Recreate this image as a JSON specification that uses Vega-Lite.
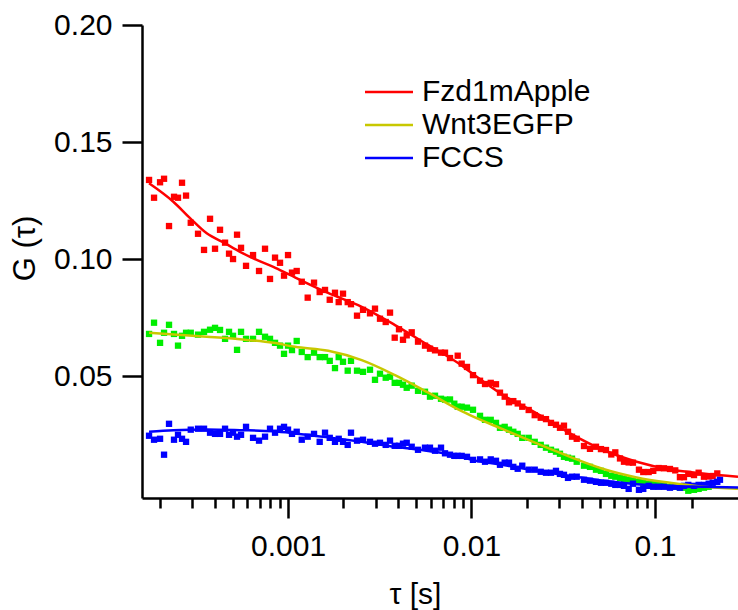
{
"$schema": "https://vega.github.io/schema/vega-lite/v6.json",
"width": 596, "height": 473,
"autosize": {"type": "none"},
"padding": {"left": 142, "top": 25, "right": 0, "bottom": 112},
"background": "white",
"config": {"view": {"stroke": null}, "font": "Liberation Sans"},
"datasets": {
"pts": [
{"s":"Fzd1mApple","t":1.748e-4,"g":0.1338},{"s":"Fzd1mApple","t":1.861e-4,"g":0.1262},{"s":"Fzd1mApple","t":2.007e-4,"g":0.1328},{"s":"Fzd1mApple","t":2.110e-4,"g":0.1343},{"s":"Fzd1mApple","t":2.246e-4,"g":0.1141},{"s":"Fzd1mApple","t":2.391e-4,"g":0.1266},{"s":"Fzd1mApple","t":2.514e-4,"g":0.1262},{"s":"Fzd1mApple","t":2.644e-4,"g":0.1326},{"s":"Fzd1mApple","t":2.781e-4,"g":0.1271},{"s":"Fzd1mApple","t":2.950e-4,"g":0.1155},
{"s":"Fzd1mApple","t":3.232e-4,"g":0.1108},{"s":"Fzd1mApple","t":3.485e-4,"g":0.1039},{"s":"Fzd1mApple","t":3.758e-4,"g":0.1172},{"s":"Fzd1mApple","t":4.001e-4,"g":0.1044},{"s":"Fzd1mApple","t":4.260e-4,"g":0.1125},{"s":"Fzd1mApple","t":4.537e-4,"g":0.1070},{"s":"Fzd1mApple","t":4.770e-4,"g":0.1023},{"s":"Fzd1mApple","t":5.015e-4,"g":0.1000},{"s":"Fzd1mApple","t":5.274e-4,"g":0.1104},{"s":"Fzd1mApple","t":5.545e-4,"g":0.1048},
{"s":"Fzd1mApple","t":5.904e-4,"g":0.0971},{"s":"Fzd1mApple","t":6.447e-4,"g":0.1017},{"s":"Fzd1mApple","t":6.950e-4,"g":0.0949},{"s":"Fzd1mApple","t":7.493e-4,"g":0.1044},{"s":"Fzd1mApple","t":7.977e-4,"g":0.0915},{"s":"Fzd1mApple","t":8.496e-4,"g":0.1006},{"s":"Fzd1mApple","t":9.045e-4,"g":0.0984},{"s":"Fzd1mApple","t":9.511e-4,"g":0.0929},{"s":"Fzd1mApple","t":1.000e-3,"g":0.1017},{"s":"Fzd1mApple","t":1.051e-3,"g":0.0942},
{"s":"Fzd1mApple","t":1.115e-3,"g":0.0949},{"s":"Fzd1mApple","t":1.188e-3,"g":0.0903},{"s":"Fzd1mApple","t":1.280e-3,"g":0.0835},{"s":"Fzd1mApple","t":1.386e-3,"g":0.0899},{"s":"Fzd1mApple","t":1.488e-3,"g":0.0859},{"s":"Fzd1mApple","t":1.591e-3,"g":0.0868},{"s":"Fzd1mApple","t":1.688e-3,"g":0.0826},{"s":"Fzd1mApple","t":1.803e-3,"g":0.0856},{"s":"Fzd1mApple","t":1.889e-3,"g":0.0816},{"s":"Fzd1mApple","t":1.994e-3,"g":0.0852},
{"s":"Fzd1mApple","t":2.115e-3,"g":0.0816},{"s":"Fzd1mApple","t":2.204e-3,"g":0.0807},{"s":"Fzd1mApple","t":2.377e-3,"g":0.0758},{"s":"Fzd1mApple","t":2.563e-3,"g":0.0783},{"s":"Fzd1mApple","t":2.798e-3,"g":0.0768},{"s":"Fzd1mApple","t":2.979e-3,"g":0.0788},{"s":"Fzd1mApple","t":3.172e-3,"g":0.0745},{"s":"Fzd1mApple","t":3.408e-3,"g":0.0731},{"s":"Fzd1mApple","t":3.597e-3,"g":0.0771},{"s":"Fzd1mApple","t":3.815e-3,"g":0.0664},
{"s":"Fzd1mApple","t":4.026e-3,"g":0.0700},{"s":"Fzd1mApple","t":4.233e-3,"g":0.0655},{"s":"Fzd1mApple","t":4.435e-3,"g":0.0674},{"s":"Fzd1mApple","t":4.722e-3,"g":0.0687},{"s":"Fzd1mApple","t":5.111e-3,"g":0.0647},{"s":"Fzd1mApple","t":5.579e-3,"g":0.0630},{"s":"Fzd1mApple","t":5.939e-3,"g":0.0617},{"s":"Fzd1mApple","t":6.326e-3,"g":0.0610},{"s":"Fzd1mApple","t":6.822e-3,"g":0.0600},{"s":"Fzd1mApple","t":7.173e-3,"g":0.0600},
{"s":"Fzd1mApple","t":7.636e-3,"g":0.0577},{"s":"Fzd1mApple","t":8.411e-3,"g":0.0587},{"s":"Fzd1mApple","t":8.841e-3,"g":0.0553},{"s":"Fzd1mApple","t":9.452e-3,"g":0.0539},{"s":"Fzd1mApple","t":1.019e-2,"g":0.0504},{"s":"Fzd1mApple","t":1.113e-2,"g":0.0480},{"s":"Fzd1mApple","t":1.185e-2,"g":0.0466},{"s":"Fzd1mApple","t":1.273e-2,"g":0.0471},{"s":"Fzd1mApple","t":1.360e-2,"g":0.0465},{"s":"Fzd1mApple","t":1.430e-2,"g":0.0429},
{"s":"Fzd1mApple","t":1.517e-2,"g":0.0412},{"s":"Fzd1mApple","t":1.601e-2,"g":0.0388},{"s":"Fzd1mApple","t":1.690e-2,"g":0.0393},{"s":"Fzd1mApple","t":1.786e-2,"g":0.0383},{"s":"Fzd1mApple","t":1.891e-2,"g":0.0369},{"s":"Fzd1mApple","t":2.050e-2,"g":0.0355},{"s":"Fzd1mApple","t":2.211e-2,"g":0.0333},{"s":"Fzd1mApple","t":2.384e-2,"g":0.0322},{"s":"Fzd1mApple","t":2.547e-2,"g":0.0316},{"s":"Fzd1mApple","t":2.712e-2,"g":0.0300},
{"s":"Fzd1mApple","t":2.887e-2,"g":0.0292},{"s":"Fzd1mApple","t":3.036e-2,"g":0.0279},{"s":"Fzd1mApple","t":3.192e-2,"g":0.0288},{"s":"Fzd1mApple","t":3.357e-2,"g":0.0262},{"s":"Fzd1mApple","t":3.530e-2,"g":0.0241},{"s":"Fzd1mApple","t":3.745e-2,"g":0.0232},{"s":"Fzd1mApple","t":4.104e-2,"g":0.0201},{"s":"Fzd1mApple","t":4.424e-2,"g":0.0189},{"s":"Fzd1mApple","t":4.770e-2,"g":0.0198},{"s":"Fzd1mApple","t":5.078e-2,"g":0.0188},
{"s":"Fzd1mApple","t":5.408e-2,"g":0.0184},{"s":"Fzd1mApple","t":5.780e-2,"g":0.0165},{"s":"Fzd1mApple","t":6.078e-2,"g":0.0174},{"s":"Fzd1mApple","t":6.447e-2,"g":0.0148},{"s":"Fzd1mApple","t":6.778e-2,"g":0.0134},{"s":"Fzd1mApple","t":7.189e-2,"g":0.0131},{"s":"Fzd1mApple","t":7.587e-2,"g":0.0130},{"s":"Fzd1mApple","t":8.180e-2,"g":0.0100},{"s":"Fzd1mApple","t":8.634e-2,"g":0.0090},{"s":"Fzd1mApple","t":9.240e-2,"g":0.0090},
{"s":"Fzd1mApple","t":9.788e-2,"g":0.0095},{"s":"Fzd1mApple","t":0.1047,"g":0.0107},{"s":"Fzd1mApple","t":0.1119,"g":0.0106},{"s":"Fzd1mApple","t":0.1207,"g":0.0103},{"s":"Fzd1mApple","t":0.1290,"g":0.0097},{"s":"Fzd1mApple","t":0.1368,"g":0.0068},{"s":"Fzd1mApple","t":0.1439,"g":0.0068},{"s":"Fzd1mApple","t":0.1519,"g":0.0082},{"s":"Fzd1mApple","t":0.1632,"g":0.0077},{"s":"Fzd1mApple","t":0.1730,"g":0.0087},
{"s":"Fzd1mApple","t":0.1849,"g":0.0070},{"s":"Fzd1mApple","t":0.1962,"g":0.0071},{"s":"Fzd1mApple","t":0.2063,"g":0.0073},{"s":"Fzd1mApple","t":0.2186,"g":0.0084},
{"s":"Wnt3EGFP","t":1.748e-4,"g":0.0680},{"s":"Wnt3EGFP","t":1.861e-4,"g":0.0728},{"s":"Wnt3EGFP","t":2.007e-4,"g":0.0642},{"s":"Wnt3EGFP","t":2.110e-4,"g":0.0685},{"s":"Wnt3EGFP","t":2.246e-4,"g":0.0719},{"s":"Wnt3EGFP","t":2.391e-4,"g":0.0680},{"s":"Wnt3EGFP","t":2.514e-4,"g":0.0630},{"s":"Wnt3EGFP","t":2.644e-4,"g":0.0672},{"s":"Wnt3EGFP","t":2.781e-4,"g":0.0685},{"s":"Wnt3EGFP","t":2.950e-4,"g":0.0685},
{"s":"Wnt3EGFP","t":3.232e-4,"g":0.0677},{"s":"Wnt3EGFP","t":3.485e-4,"g":0.0689},{"s":"Wnt3EGFP","t":3.758e-4,"g":0.0698},{"s":"Wnt3EGFP","t":4.001e-4,"g":0.0706},{"s":"Wnt3EGFP","t":4.260e-4,"g":0.0697},{"s":"Wnt3EGFP","t":4.537e-4,"g":0.0659},{"s":"Wnt3EGFP","t":4.770e-4,"g":0.0689},{"s":"Wnt3EGFP","t":5.015e-4,"g":0.0672},{"s":"Wnt3EGFP","t":5.274e-4,"g":0.0612},{"s":"Wnt3EGFP","t":5.545e-4,"g":0.0689},
{"s":"Wnt3EGFP","t":5.904e-4,"g":0.0659},{"s":"Wnt3EGFP","t":6.447e-4,"g":0.0659},{"s":"Wnt3EGFP","t":6.950e-4,"g":0.0689},{"s":"Wnt3EGFP","t":7.493e-4,"g":0.0668},{"s":"Wnt3EGFP","t":7.977e-4,"g":0.0659},{"s":"Wnt3EGFP","t":8.496e-4,"g":0.0642},{"s":"Wnt3EGFP","t":9.045e-4,"g":0.0630},{"s":"Wnt3EGFP","t":9.511e-4,"g":0.0595},{"s":"Wnt3EGFP","t":1.000e-3,"g":0.0630},{"s":"Wnt3EGFP","t":1.051e-3,"g":0.0611},
{"s":"Wnt3EGFP","t":1.115e-3,"g":0.0650},{"s":"Wnt3EGFP","t":1.188e-3,"g":0.0603},{"s":"Wnt3EGFP","t":1.280e-3,"g":0.0581},{"s":"Wnt3EGFP","t":1.386e-3,"g":0.0600},{"s":"Wnt3EGFP","t":1.488e-3,"g":0.0581},{"s":"Wnt3EGFP","t":1.591e-3,"g":0.0581},{"s":"Wnt3EGFP","t":1.688e-3,"g":0.0565},{"s":"Wnt3EGFP","t":1.803e-3,"g":0.0534},{"s":"Wnt3EGFP","t":1.889e-3,"g":0.0581},{"s":"Wnt3EGFP","t":1.994e-3,"g":0.0561},
{"s":"Wnt3EGFP","t":2.115e-3,"g":0.0523},{"s":"Wnt3EGFP","t":2.204e-3,"g":0.0565},{"s":"Wnt3EGFP","t":2.377e-3,"g":0.0523},{"s":"Wnt3EGFP","t":2.563e-3,"g":0.0518},{"s":"Wnt3EGFP","t":2.798e-3,"g":0.0527},{"s":"Wnt3EGFP","t":2.979e-3,"g":0.0484},{"s":"Wnt3EGFP","t":3.172e-3,"g":0.0510},{"s":"Wnt3EGFP","t":3.408e-3,"g":0.0493},{"s":"Wnt3EGFP","t":3.597e-3,"g":0.0497},{"s":"Wnt3EGFP","t":3.815e-3,"g":0.0471},
{"s":"Wnt3EGFP","t":4.026e-3,"g":0.0471},{"s":"Wnt3EGFP","t":4.233e-3,"g":0.0463},{"s":"Wnt3EGFP","t":4.435e-3,"g":0.0450},{"s":"Wnt3EGFP","t":4.722e-3,"g":0.0459},{"s":"Wnt3EGFP","t":5.111e-3,"g":0.0437},{"s":"Wnt3EGFP","t":5.579e-3,"g":0.0433},{"s":"Wnt3EGFP","t":5.939e-3,"g":0.0412},{"s":"Wnt3EGFP","t":6.326e-3,"g":0.0416},{"s":"Wnt3EGFP","t":6.822e-3,"g":0.0403},{"s":"Wnt3EGFP","t":7.173e-3,"g":0.0399},
{"s":"Wnt3EGFP","t":7.636e-3,"g":0.0400},{"s":"Wnt3EGFP","t":8.060e-3,"g":0.0382},{"s":"Wnt3EGFP","t":8.411e-3,"g":0.0369},{"s":"Wnt3EGFP","t":8.841e-3,"g":0.0369},{"s":"Wnt3EGFP","t":9.452e-3,"g":0.0365},{"s":"Wnt3EGFP","t":1.019e-2,"g":0.0356},{"s":"Wnt3EGFP","t":1.113e-2,"g":0.0330},{"s":"Wnt3EGFP","t":1.185e-2,"g":0.0313},{"s":"Wnt3EGFP","t":1.273e-2,"g":0.0313},{"s":"Wnt3EGFP","t":1.360e-2,"g":0.0300},
{"s":"Wnt3EGFP","t":1.430e-2,"g":0.0279},{"s":"Wnt3EGFP","t":1.517e-2,"g":0.0283},{"s":"Wnt3EGFP","t":1.601e-2,"g":0.0271},{"s":"Wnt3EGFP","t":1.690e-2,"g":0.0262},{"s":"Wnt3EGFP","t":1.786e-2,"g":0.0253},{"s":"Wnt3EGFP","t":1.891e-2,"g":0.0236},{"s":"Wnt3EGFP","t":2.050e-2,"g":0.0236},{"s":"Wnt3EGFP","t":2.211e-2,"g":0.0219},{"s":"Wnt3EGFP","t":2.384e-2,"g":0.0206},{"s":"Wnt3EGFP","t":2.547e-2,"g":0.0194},
{"s":"Wnt3EGFP","t":2.712e-2,"g":0.0185},{"s":"Wnt3EGFP","t":2.887e-2,"g":0.0177},{"s":"Wnt3EGFP","t":3.036e-2,"g":0.0168},{"s":"Wnt3EGFP","t":3.192e-2,"g":0.0155},{"s":"Wnt3EGFP","t":3.357e-2,"g":0.0151},{"s":"Wnt3EGFP","t":3.530e-2,"g":0.0147},{"s":"Wnt3EGFP","t":3.745e-2,"g":0.0134},{"s":"Wnt3EGFP","t":4.104e-2,"g":0.0117},{"s":"Wnt3EGFP","t":4.424e-2,"g":0.0112},{"s":"Wnt3EGFP","t":4.770e-2,"g":0.0100},
{"s":"Wnt3EGFP","t":5.078e-2,"g":0.0095},{"s":"Wnt3EGFP","t":5.408e-2,"g":0.0082},{"s":"Wnt3EGFP","t":5.780e-2,"g":0.0074},{"s":"Wnt3EGFP","t":6.078e-2,"g":0.0070},{"s":"Wnt3EGFP","t":6.447e-2,"g":0.0065},{"s":"Wnt3EGFP","t":6.778e-2,"g":0.0061},{"s":"Wnt3EGFP","t":7.189e-2,"g":0.0057},{"s":"Wnt3EGFP","t":7.587e-2,"g":0.0053},{"s":"Wnt3EGFP","t":8.180e-2,"g":0.0048},{"s":"Wnt3EGFP","t":8.634e-2,"g":0.0044},
{"s":"Wnt3EGFP","t":9.240e-2,"g":0.0040},{"s":"Wnt3EGFP","t":9.788e-2,"g":0.0040},{"s":"Wnt3EGFP","t":0.1047,"g":0.0035},{"s":"Wnt3EGFP","t":0.1119,"g":0.0031},{"s":"Wnt3EGFP","t":0.1207,"g":0.0027},{"s":"Wnt3EGFP","t":0.1290,"g":0.0027},{"s":"Wnt3EGFP","t":0.1368,"g":0.0023},{"s":"Wnt3EGFP","t":0.1439,"g":0.0023},{"s":"Wnt3EGFP","t":0.1519,"g":0.0010},{"s":"Wnt3EGFP","t":0.1632,"g":0.0014},
{"s":"Wnt3EGFP","t":0.1730,"g":0.0018},{"s":"Wnt3EGFP","t":0.1849,"g":0.0023},{"s":"Wnt3EGFP","t":0.1962,"g":0.0027},
{"s":"FCCS","t":1.748e-4,"g":0.0245},{"s":"FCCS","t":1.861e-4,"g":0.0228},{"s":"FCCS","t":2.007e-4,"g":0.0232},{"s":"FCCS","t":2.110e-4,"g":0.0164},{"s":"FCCS","t":2.246e-4,"g":0.0296},{"s":"FCCS","t":2.391e-4,"g":0.0228},{"s":"FCCS","t":2.514e-4,"g":0.0249},{"s":"FCCS","t":2.644e-4,"g":0.0232},{"s":"FCCS","t":2.781e-4,"g":0.0219},{"s":"FCCS","t":2.950e-4,"g":0.0271},
{"s":"FCCS","t":3.232e-4,"g":0.0275},{"s":"FCCS","t":3.485e-4,"g":0.0275},{"s":"FCCS","t":3.758e-4,"g":0.0258},{"s":"FCCS","t":4.001e-4,"g":0.0253},{"s":"FCCS","t":4.260e-4,"g":0.0253},{"s":"FCCS","t":4.537e-4,"g":0.0275},{"s":"FCCS","t":4.770e-4,"g":0.0249},{"s":"FCCS","t":5.015e-4,"g":0.0258},{"s":"FCCS","t":5.274e-4,"g":0.0241},{"s":"FCCS","t":5.545e-4,"g":0.0249},
{"s":"FCCS","t":5.904e-4,"g":0.0283},{"s":"FCCS","t":6.447e-4,"g":0.0236},{"s":"FCCS","t":6.950e-4,"g":0.0224},{"s":"FCCS","t":7.493e-4,"g":0.0241},{"s":"FCCS","t":7.977e-4,"g":0.0275},{"s":"FCCS","t":8.496e-4,"g":0.0258},{"s":"FCCS","t":9.045e-4,"g":0.0275},{"s":"FCCS","t":9.511e-4,"g":0.0283},{"s":"FCCS","t":1.000e-3,"g":0.0271},{"s":"FCCS","t":1.051e-3,"g":0.0253},
{"s":"FCCS","t":1.115e-3,"g":0.0262},{"s":"FCCS","t":1.188e-3,"g":0.0228},{"s":"FCCS","t":1.280e-3,"g":0.0241},{"s":"FCCS","t":1.386e-3,"g":0.0253},{"s":"FCCS","t":1.488e-3,"g":0.0219},{"s":"FCCS","t":1.591e-3,"g":0.0258},{"s":"FCCS","t":1.688e-3,"g":0.0236},{"s":"FCCS","t":1.803e-3,"g":0.0219},{"s":"FCCS","t":1.889e-3,"g":0.0232},{"s":"FCCS","t":1.994e-3,"g":0.0219},
{"s":"FCCS","t":2.115e-3,"g":0.0206},{"s":"FCCS","t":2.204e-3,"g":0.0258},{"s":"FCCS","t":2.377e-3,"g":0.0224},{"s":"FCCS","t":2.563e-3,"g":0.0228},{"s":"FCCS","t":2.798e-3,"g":0.0219},{"s":"FCCS","t":2.979e-3,"g":0.0211},{"s":"FCCS","t":3.172e-3,"g":0.0215},{"s":"FCCS","t":3.408e-3,"g":0.0206},{"s":"FCCS","t":3.597e-3,"g":0.0224},{"s":"FCCS","t":3.815e-3,"g":0.0202},
{"s":"FCCS","t":4.026e-3,"g":0.0202},{"s":"FCCS","t":4.233e-3,"g":0.0211},{"s":"FCCS","t":4.435e-3,"g":0.0215},{"s":"FCCS","t":4.722e-3,"g":0.0198},{"s":"FCCS","t":5.111e-3,"g":0.0185},{"s":"FCCS","t":5.579e-3,"g":0.0194},{"s":"FCCS","t":5.939e-3,"g":0.0194},{"s":"FCCS","t":6.326e-3,"g":0.0181},{"s":"FCCS","t":6.822e-3,"g":0.0194},{"s":"FCCS","t":7.173e-3,"g":0.0170},
{"s":"FCCS","t":7.636e-3,"g":0.0164},{"s":"FCCS","t":8.060e-3,"g":0.0159},{"s":"FCCS","t":8.411e-3,"g":0.0159},{"s":"FCCS","t":8.841e-3,"g":0.0159},{"s":"FCCS","t":9.452e-3,"g":0.0155},{"s":"FCCS","t":1.019e-2,"g":0.0142},{"s":"FCCS","t":1.113e-2,"g":0.0144},{"s":"FCCS","t":1.185e-2,"g":0.0134},{"s":"FCCS","t":1.273e-2,"g":0.0144},{"s":"FCCS","t":1.360e-2,"g":0.0138},
{"s":"FCCS","t":1.430e-2,"g":0.0121},{"s":"FCCS","t":1.517e-2,"g":0.0130},{"s":"FCCS","t":1.601e-2,"g":0.0130},{"s":"FCCS","t":1.690e-2,"g":0.0112},{"s":"FCCS","t":1.786e-2,"g":0.0104},{"s":"FCCS","t":1.891e-2,"g":0.0117},{"s":"FCCS","t":2.050e-2,"g":0.0100},{"s":"FCCS","t":2.211e-2,"g":0.0100},{"s":"FCCS","t":2.384e-2,"g":0.0091},{"s":"FCCS","t":2.547e-2,"g":0.0087},
{"s":"FCCS","t":2.712e-2,"g":0.0087},{"s":"FCCS","t":2.887e-2,"g":0.0095},{"s":"FCCS","t":3.036e-2,"g":0.0082},{"s":"FCCS","t":3.192e-2,"g":0.0078},{"s":"FCCS","t":3.357e-2,"g":0.0065},{"s":"FCCS","t":3.530e-2,"g":0.0070},{"s":"FCCS","t":3.745e-2,"g":0.0070},{"s":"FCCS","t":4.104e-2,"g":0.0057},{"s":"FCCS","t":4.424e-2,"g":0.0053},{"s":"FCCS","t":4.770e-2,"g":0.0048},
{"s":"FCCS","t":5.078e-2,"g":0.0044},{"s":"FCCS","t":5.408e-2,"g":0.0044},{"s":"FCCS","t":5.780e-2,"g":0.0040},{"s":"FCCS","t":6.078e-2,"g":0.0035},{"s":"FCCS","t":6.447e-2,"g":0.0035},{"s":"FCCS","t":6.778e-2,"g":0.0031},{"s":"FCCS","t":7.189e-2,"g":0.0018},{"s":"FCCS","t":7.587e-2,"g":0.0040},{"s":"FCCS","t":8.180e-2,"g":0.0014},{"s":"FCCS","t":8.634e-2,"g":0.0018},
{"s":"FCCS","t":9.240e-2,"g":0.0031},{"s":"FCCS","t":9.788e-2,"g":0.0027},{"s":"FCCS","t":0.1047,"g":0.0027},{"s":"FCCS","t":0.1119,"g":0.0027},{"s":"FCCS","t":0.1207,"g":0.0023},{"s":"FCCS","t":0.1290,"g":0.0027},{"s":"FCCS","t":0.1368,"g":0.0023},{"s":"FCCS","t":0.1439,"g":0.0031},{"s":"FCCS","t":0.1519,"g":0.0035},{"s":"FCCS","t":0.1632,"g":0.0031},
{"s":"FCCS","t":0.1730,"g":0.0035},{"s":"FCCS","t":0.1849,"g":0.0035},{"s":"FCCS","t":0.1962,"g":0.0040},{"s":"FCCS","t":0.2063,"g":0.0044},{"s":"FCCS","t":0.2186,"g":0.0048},{"s":"FCCS","t":0.2261,"g":0.0057}
],
"fit": [
{"s":"Fzd1mApple","t":1.748e-4,"g":0.1324},{"s":"Fzd1mApple","t":2.371e-4,"g":0.1245},{"s":"Fzd1mApple","t":2.924e-4,"g":0.1175},{"s":"Fzd1mApple","t":3.605e-4,"g":0.1110},{"s":"Fzd1mApple","t":4.537e-4,"g":0.1067},{"s":"Fzd1mApple","t":5.475e-4,"g":0.1031},{"s":"Fzd1mApple","t":6.752e-4,"g":0.0996},{"s":"Fzd1mApple","t":8.316e-4,"g":0.0967},{"s":"Fzd1mApple","t":1.025e-3,"g":0.0932},{"s":"Fzd1mApple","t":1.652e-3,"g":0.0855},{"s":"Fzd1mApple","t":2.521e-3,"g":0.0796},{"s":"Fzd1mApple","t":3.829e-3,"g":0.0718},{"s":"Fzd1mApple","t":5.793e-3,"g":0.0633},{"s":"Fzd1mApple","t":8.841e-3,"g":0.0545},{"s":"Fzd1mApple","t":9.813e-3,"g":0.0518},{"s":"Fzd1mApple","t":1.485e-2,"g":0.0419},{"s":"Fzd1mApple","t":2.267e-2,"g":0.0341},{"s":"Fzd1mApple","t":3.442e-2,"g":0.0255},{"s":"Fzd1mApple","t":5.229e-2,"g":0.0184},{"s":"Fzd1mApple","t":7.946e-2,"g":0.0134},{"s":"Fzd1mApple","t":0.1207,"g":0.0101},{"s":"Fzd1mApple","t":0.1827,"g":0.0084},{"s":"Fzd1mApple","t":0.2835,"g":0.0070},
{"s":"Wnt3EGFP","t":1.748e-4,"g":0.0685},{"s":"Wnt3EGFP","t":3.605e-4,"g":0.0668},{"s":"Wnt3EGFP","t":5.475e-4,"g":0.0657},{"s":"Wnt3EGFP","t":8.316e-4,"g":0.0642},{"s":"Wnt3EGFP","t":1.092e-3,"g":0.0625},{"s":"Wnt3EGFP","t":1.658e-3,"g":0.0608},{"s":"Wnt3EGFP","t":2.521e-3,"g":0.0568},{"s":"Wnt3EGFP","t":3.829e-3,"g":0.0504},{"s":"Wnt3EGFP","t":5.815e-3,"g":0.0429},{"s":"Wnt3EGFP","t":8.841e-3,"g":0.0350},{"s":"Wnt3EGFP","t":9.813e-3,"g":0.0333},{"s":"Wnt3EGFP","t":1.491e-2,"g":0.0272},{"s":"Wnt3EGFP","t":2.267e-2,"g":0.0212},{"s":"Wnt3EGFP","t":3.442e-2,"g":0.0155},{"s":"Wnt3EGFP","t":5.229e-2,"g":0.0103},{"s":"Wnt3EGFP","t":7.946e-2,"g":0.0067},{"s":"Wnt3EGFP","t":0.1207,"g":0.0044},{"s":"Wnt3EGFP","t":0.1834,"g":0.0027},{"s":"Wnt3EGFP","t":0.2835,"g":0.0018},
{"s":"FCCS","t":1.748e-4,"g":0.0262},{"s":"FCCS","t":2.371e-4,"g":0.0269},{"s":"FCCS","t":3.605e-4,"g":0.0272},{"s":"FCCS","t":5.475e-4,"g":0.0269},{"s":"FCCS","t":8.316e-4,"g":0.0264},{"s":"FCCS","t":1.092e-3,"g":0.0255},{"s":"FCCS","t":1.658e-3,"g":0.0238},{"s":"FCCS","t":2.521e-3,"g":0.0219},{"s":"FCCS","t":3.829e-3,"g":0.0198},{"s":"FCCS","t":5.815e-3,"g":0.0180},{"s":"FCCS","t":8.841e-3,"g":0.0155},{"s":"FCCS","t":9.813e-3,"g":0.0144},{"s":"FCCS","t":1.491e-2,"g":0.0120},{"s":"FCCS","t":2.267e-2,"g":0.0095},{"s":"FCCS","t":3.442e-2,"g":0.0073},{"s":"FCCS","t":5.229e-2,"g":0.0053},{"s":"FCCS","t":7.946e-2,"g":0.0038},{"s":"FCCS","t":0.1207,"g":0.0030},{"s":"FCCS","t":0.1834,"g":0.0027},{"s":"FCCS","t":0.2835,"g":0.0024}
]
},
"encoding": {
  "x": {"field": "t", "type": "quantitative",
    "scale": {"type": "log", "domain": [0.00016, 0.2835], "nice": false},
    "axis": {
      "values": [0.0002,0.0003,0.0004,0.0005,0.0006,0.0007,0.0008,0.0009,0.001,0.002,0.003,0.004,0.005,0.006,0.007,0.008,0.009,0.01,0.02,0.03,0.04,0.05,0.06,0.07,0.08,0.09,0.1,0.16],
      "labelExpr": "datum.value == 0.001 ? '0.001' : datum.value == 0.01 ? '0.01' : datum.value == 0.1 ? '0.1' : ''",
      "tickSize": {"condition": {"test": "datum.value == 0.001 || datum.value == 0.01 || datum.value == 0.1", "value": 20}, "value": 10},
      "tickWidth": 2.5, "tickColor": "black", "domainColor": "black", "domainWidth": 2.5,
      "labelFontSize": 30, "labelColor": "black", "labelPadding": 13, "labelFlush": false, "labelOverlap": false, "labelBound": false, "labelAngle": 0,
      "grid": false,
      "title": "τ [s]", "titleFontSize": 30, "titleFontWeight": "normal", "titleColor": "black",
      "titleX": 273, "titleY": 105, "titleBaseline": "alphabetic", "titleAlign": "center"
    }},
  "y": {"field": "g", "type": "quantitative",
    "scale": {"domain": [-0.0021, 0.2], "nice": false, "zero": false},
    "axis": {
      "values": [0.05, 0.1, 0.15, 0.2], "format": ".2f",
      "tickSize": 20, "tickWidth": 2.5, "tickColor": "black", "domainColor": "black", "domainWidth": 2.5,
      "labelFontSize": 30, "labelColor": "black", "labelPadding": 10, "labelFlush": false, "labelOverlap": false, "labelBound": false,
      "grid": false,
      "title": "G (τ)", "titleFontSize": 31, "titleFontWeight": "normal", "titleColor": "black",
      "titleX": -108, "titleY": 223, "titleBaseline": "alphabetic", "titleAlign": "center", "titleAngle": 270
    }}
},
"layer": [
  {"data": {"name": "pts"},
   "mark": {"type": "square", "size": 40, "opacity": 1, "filled": true},
   "encoding": {
     "color": {"field": "s", "type": "nominal",
       "scale": {"domain": ["Fzd1mApple", "Wnt3EGFP", "FCCS"], "range": ["#ff0000", "#00ee00", "#0000ff"]},
       "legend": null}
   }},
  {"data": {"name": "fit"},
   "mark": {"type": "line", "strokeWidth": 2.5, "interpolate": "monotone"},
   "encoding": {
     "color": {"field": "s", "type": "nominal",
       "scale": {"domain": ["Fzd1mApple", "Wnt3EGFP", "FCCS"], "range": ["#ff0000", "#c8c800", "#0000ff"]},
       "legend": {"orient": "none", "legendX": 220, "legendY": 52, "title": null,
         "symbolType": "M-1,0L3,0", "symbolSize": 576, "symbolStrokeWidth": 2.5, "symbolFillColor": "transparent",
         "labelFontSize": 30, "labelColor": "black", "labelOffset": 30, "rowPadding": 3, "padding": 0, "labelLimit": 400}}
   }}
],
"resolve": {"scale": {"color": "independent"}}
}
